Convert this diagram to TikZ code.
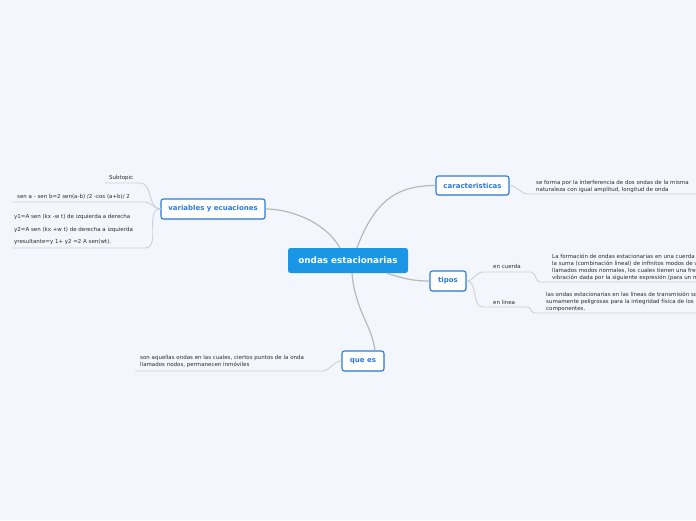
\documentclass[tikz,border=0pt]{standalone}
\usepackage{fontspec}
\setmainfont{DejaVu Sans}
\usetikzlibrary{shadows}
\definecolor{pagebg}{HTML}{F3F6FD}
\definecolor{hubblue}{HTML}{1A96E6}
\definecolor{topicblue}{HTML}{2A7BDE}
\definecolor{mainline}{HTML}{B8B8B8}
\definecolor{twigline}{HTML}{D0D0D0}
\definecolor{leaftext}{HTML}{2B2B2B}

\begin{document}
\begin{tikzpicture}[x=1pt, y=-1pt,
    hub/.style={fill=hubblue, rounded corners=2.5pt, minimum width=120pt, minimum height=25pt, inner sep=0pt, text=white, font=\fontsize{8.8}{10}\selectfont\bfseries},
    topic/.style={draw=topicblue, line width=1.1pt, fill=white, rounded corners=2.5pt, minimum height=20pt, inner sep=0pt, text=topicblue, font=\fontsize{7}{8}\selectfont\bfseries, drop shadow={opacity=0.18, shadow xshift=0.6pt, shadow yshift=-0.9pt}},
    leaf/.style={anchor=west, align=left, inner sep=0pt, text=leaftext, font=\fontsize{5.5}{7}\selectfont},
    wire/.style={draw=mainline, line width=1.2pt},
    twig/.style={draw=twigline, line width=0.9pt}
]
    \path[use as bounding box, clip] (0,0) rectangle (696,520);
    \fill[pagebg] (0,0) rectangle (696,520);

    \node[hub] (ondas) at (348,260.5) {ondas estacionarias};
    \node[topic, minimum width=73pt, minimum height=19pt] (carac) at (472.5,185.5) {caracteristicas};
    \node[topic, minimum width=104pt] (varia) at (213,209) {variables y ecuaciones};
    \node[topic, minimum width=36pt] (tipos) at (448,281) {tipos};
    \node[topic, minimum width=42pt] (quees) at (363,361) {que es};

    \node[leaf] (caracTxt) at (536,186.5) {se forma por la interferencia de dos ondas de la misma\\naturaleza con igual amplitud, longitud de onda};
    \node[leaf] (cuerda) at (493,266) {en cuerda};
    \node[leaf] (linea) at (493,302) {en linea};
    \node[leaf] (cuerdaTxt) at (552,267.5) {La formación de ondas estacionarias en una cuerda\\la suma (combinación lineal) de infinitos modos de v\\llamados modos normales, los cuales tienen una fre\\vibración dada por la siguiente expresión (para un m};
    \node[leaf] (lineaTxt) at (546,302) {las ondas estacionarias en las líneas de transmisión so\\sumamente peligrosas para la integridad física de los\\componentes.};
    \node[leaf] (queTxt) at (140,361.5) {son aquellas ondas en las cuales, ciertos puntos de la onda\\llamados nodos, permanecen inmóviles};
    \node[leaf] (subtopic) at (109,178) {Subtopic};
    \node[leaf] (senTxt) at (17,197) {sen a - sen b=2 sen(a-b) /2 -cos (a+b)/ 2};
    \node[leaf, font=\fontsize{5.5}{12.5}\selectfont] (ecuTxt) at (14,229.5) {y1=A sen (kx -w t) de izquierda a derecha\\y2=A sen (kx +w t) de derecha a izquierda\\yresultante=y 1+ y2 =2 A sen(wt).};

    \coordinate (caracA) at (528,194);
    \coordinate (caracB) at (696,194);
    \coordinate (cuerdaA) at (483,272);
    \coordinate (cuerdaB) at (531,272);
    \coordinate (cuerdaC) at (540,282);
    \coordinate (cuerdaD) at (696,282);
    \coordinate (lineaA) at (483,307);
    \coordinate (lineaB) at (527,307);
    \coordinate (lineaC) at (535,313);
    \coordinate (lineaD) at (696,313);
    \coordinate (queA) at (322,371);
    \coordinate (queB) at (135,371);
    \coordinate (subA) at (140,183);
    \coordinate (subB) at (105,183);
    \coordinate (senA) at (145,202);
    \coordinate (senB) at (12,202);
    \coordinate (ecuA) at (145,248);
    \coordinate (ecuB) at (12,248);

    \draw[wire] ([xshift=9pt]ondas.north) .. controls +(18,-48) and +(-38,0) .. (carac.west);
    \draw[wire] ([xshift=-8pt]ondas.north) .. controls +(-15,-26) and +(25,0) .. (varia.east);
    \draw[wire] ([xshift=39pt]ondas.south) .. controls +(18,6) and +(-15,0) .. (tipos.west);
    \draw[wire] ([xshift=4pt]ondas.south) .. controls +(3,37) and +(-3,-25) .. ([xshift=12pt]quees.north);

    \draw[twig] (carac.east) to[out=0,in=180] (caracA) -- (caracB);
    \draw[twig] (tipos.east) to[out=0,in=180] (cuerdaA) -- (cuerdaB) to[out=0,in=180] (cuerdaC) -- (cuerdaD);
    \draw[twig] (tipos.east) to[out=0,in=180] (lineaA) -- (lineaB) to[out=0,in=180] (lineaC) -- (lineaD);
    \draw[twig] (quees.west) to[out=180,in=0] (queA) -- (queB);
    \draw[twig] (varia.west) to[out=180,in=0] (subA) -- (subB);
    \draw[twig] (varia.west) to[out=180,in=0] (senA) -- (senB);
    \draw[twig] (varia.west) to[out=180,in=0] (ecuA) -- (ecuB);
\end{tikzpicture}
\end{document}
